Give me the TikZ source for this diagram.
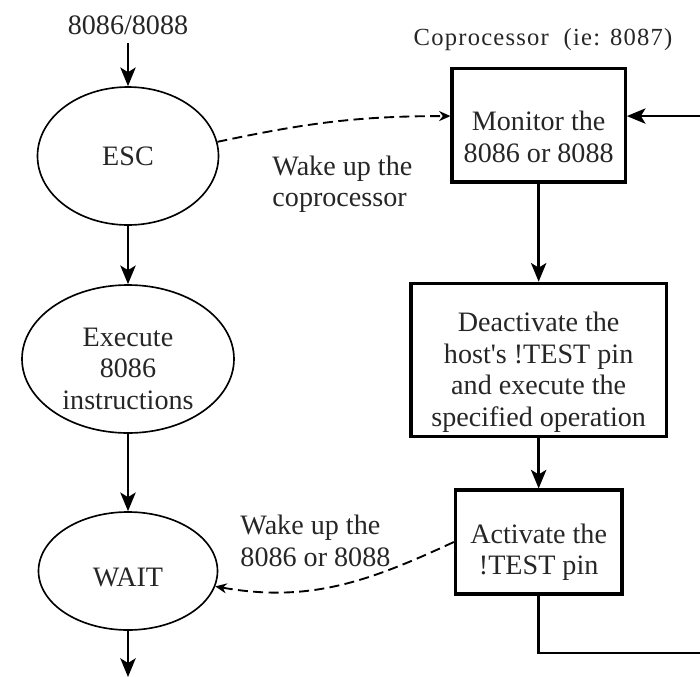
\documentclass[tikz,border=0pt]{standalone}
\usepackage{fontspec}
\setmainfont{Liberation Serif}
\newfontfamily\spacedfont[LetterSpace=5]{Liberation Serif}
\usepackage{tikz}
\usetikzlibrary{positioning,arrows.meta,shapes.geometric,calc}
\definecolor{inkgray}{HTML}{262626}

\begin{document}
\begin{tikzpicture}[font=\fontsize{12}{13.4}\selectfont,text=inkgray,
    hoststep/.style={draw,ellipse,line width=0.7pt,inner sep=0pt,align=center},
    copstep/.style={draw,line width=1.3pt,inner sep=2pt,align=center},
    flow/.style={-{Stealth[length=2.8mm,width=2.3mm,inset=0.7mm]},line width=1pt},
    wake/.style={-{Stealth[length=1.7mm,width=1.5mm]},line width=0.8pt,
                 dash pattern=on 1.5mm off 0.8mm},
    wakenote/.style={anchor=west,align=left,inner xsep=0pt}]

\useasboundingbox (0,0) rectangle (10.5,-10.155);
\clip (0,0) rectangle (10.5,-10.155);

\node (host) at (1.92,-0.375) {8086/8088};
\node[hoststep,minimum width=2.715cm,minimum height=2.07cm] (esc) at (1.92,-2.34) {ESC};
\node[hoststep,minimum width=3.18cm,minimum height=2.22cm,text height=43pt] (exec)
     at (1.92,-5.385) {Execute\\8086\\instructions};
\node[hoststep,minimum width=2.685cm,minimum height=1.77cm,text height=13.8pt] (wait)
     at (1.92,-8.565) {WAIT};
\coordinate (hostout) at (1.92,-10.155);

\node[font=\spacedfont\fontsize{10.5}{12}\selectfont] (coplabel) at (8.145,-0.6)
     {Coprocessor~ (ie: 8087)};
\node[copstep,minimum width=2.6cm,minimum height=1.7cm,text height=31.5pt] (monitor)
     at (8.08,-1.88) {Monitor the\\8086 or 8088};
\node[copstep,minimum width=3.83cm,minimum height=2.13cm,text height=59pt] (deact)
     at (8.08,-5.4)
     {Deactivate the\\host\textquotesingle s !TEST pin\\and execute the\\specified operation};
\node[copstep,minimum width=2.5cm,minimum height=1.56cm,text height=30.3pt] (act)
     at (8.08,-8.13) {Activate the\\!TEST pin};
\coordinate (loop) at (10.9,-9.795);

\draw[flow] (host) -- (esc);
\draw[flow] (esc) -- (exec);
\draw[flow] (exec) -- (wait);
\draw[flow] (wait) -- (hostout);

\draw[flow] (monitor) -- (deact);
\draw[flow] (deact) -- (act);
\draw[flow] (act.south) |- (loop) -- (loop |- monitor.6) -- (monitor.6);

\draw[wake] (esc.9) to[out=12,in=180] (monitor.174);
\node[wakenote] (wakecop) at (4.08,-2.76) {Wake up the\\coprocessor};

\draw[wake] (act.west) to[out=205,in=-10] (wait.-10);
\node[wakenote] (wakehost) at (3.6,-8.115) {Wake up the\\8086 or 8088};

\end{tikzpicture}
\end{document}
